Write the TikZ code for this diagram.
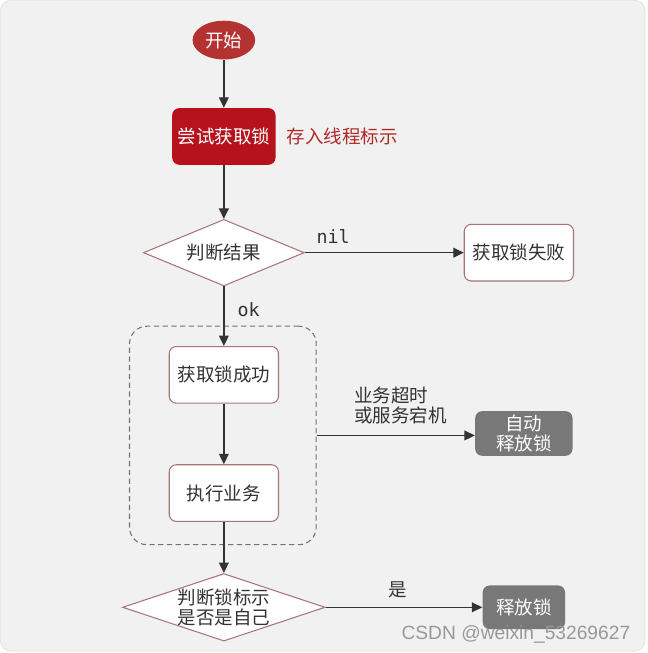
\documentclass[tikz,border=0pt]{standalone}
\usepackage{fontspec}
\usepackage{xcolor}
\setmainfont{Noto Sans CJK SC}
\newfontfamily\codefont{DejaVu Sans Mono}
\newfontfamily\markfont{Liberation Sans}
\usetikzlibrary{shapes.geometric,arrows.meta}
\definecolor{paper}{HTML}{F1F1F1}
\definecolor{startred}{HTML}{B53232}
\definecolor{lockred}{HTML}{B5121B}
\definecolor{notered}{HTML}{B02A2A}
\definecolor{rimc}{HTML}{A87474}
\definecolor{autogray}{HTML}{787878}
\definecolor{inkc}{HTML}{333333}

\begin{document}
\begin{tikzpicture}[x=0.02cm,y=-0.02cm]
\tikzset{every node/.append style={inner sep=0pt,font=\fontsize{10.6}{11.2}\selectfont,text=inkc}}
\tikzset{flow/.style={draw=inkc,line width=0.75pt,-{Triangle[length=6pt,width=5.6pt]}}}
\tikzset{whitebox/.style={draw=rimc,fill=white,rounded corners=4pt,line width=0.6pt,minimum width=2.2cm,minimum height=1.14cm}}
\tikzset{graybox/.style={fill=autogray,rounded corners=4pt,text=white,align=center}}
\tikzset{check/.style={diamond,draw=rimc,fill=white,line width=0.6pt,aspect=3,align=center}}
% page
\fill [white] (0,0) rectangle (647,653);
\filldraw [fill=paper,draw=black!12,rounded corners=6pt] (-4,-4) rectangle (645,651);
% nodes
\node [ellipse,fill=startred,text=white,minimum width=1.26cm,minimum height=0.78cm] (start) at (221,36) {开始};
\node [fill=lockred,text=white,rounded corners=4pt,minimum width=2.08cm,minimum height=1.14cm] (trylock) at (221,133) {尝试获取锁};
\node [anchor=west,text=notered] (savetid) at (284,133) {存入线程标示};
\node [check,minimum width=3.24cm,minimum height=1.34cm] (result) at (221,250) {判断结果};
\node [whitebox] (fail) at (518,250) {获取锁失败};
\node [draw=black!55,dashed,dash pattern=on 3pt off 2pt,rounded corners=10pt,line width=0.6pt,minimum width=3.76cm,minimum height=4.4cm] (grp) at (220,434) {};
\node [whitebox] (ok) at (221,373) {获取锁成功};
\node [whitebox] (work) at (221,492) {执行业务};
\node [graybox,minimum width=1.96cm,minimum height=0.9cm] (autofree) at (523,432) {自动\\释放锁};
\node [check,minimum width=3.94cm,minimum height=1.32cm] (owner) at (221,607) {判断锁标示\\是否是自己};
\node [graybox,minimum width=1.66cm,minimum height=0.88cm] (unlock) at (523,607) {释放锁};
% labels
\node [font=\codefont\fontsize{10.5}{12}\selectfont] (lnil) at (331,234) {nil};
\node [font=\codefont\fontsize{10.5}{12}\selectfont] (lok) at (246,307) {ok};
\node [anchor=west,align=left] (ltimeout) at (352,404) {业务超时\\或服务宕机};
\node (lyes) at (396,589) {是};
\node [font=\markfont\fontsize{11}{12}\selectfont,text=black!40] (wm) at (515,634) {CSDN @weixin\_53269627};
% connectors
\draw [flow] (start) -- (trylock);
\draw [flow] (trylock) -- (result);
\draw [flow] (result) -- (fail);
\draw [flow] (result) -- (ok);
\draw [flow] (ok) -- (work);
\draw [flow] (work) -- (owner);
\draw [flow] (grp.east) -- (grp.east -| autofree.west);
\draw [flow] (owner) -- (unlock);
\end{tikzpicture}
\end{document}
